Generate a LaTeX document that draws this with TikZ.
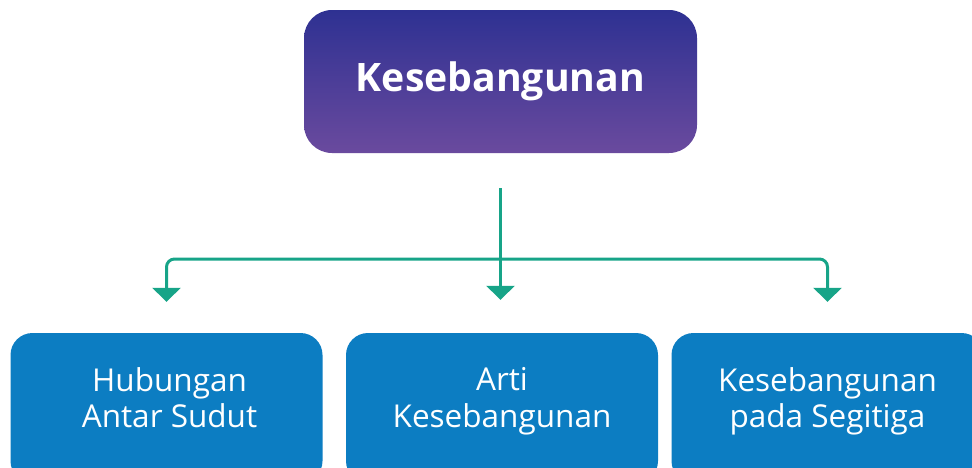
\documentclass[tikz,border=0pt]{standalone}
\usepackage{fontspec}
\setmainfont{Open Sans}
\usetikzlibrary{arrows.meta}
\definecolor{rootTop}{HTML}{2E3192}
\definecolor{rootBot}{HTML}{6A4A9E}
\definecolor{catBlue}{HTML}{0C7DC2}
\definecolor{linkTeal}{HTML}{17A488}
\tikzset{
  rootbox/.style={rounded corners=28pt, top color=rootTop, bottom color=rootBot,
    minimum width=393pt, minimum height=143pt, inner sep=0pt, text=white,
    font=\bfseries\fontsize{39.2}{46}\selectfont},
  catbox/.style={rounded corners=22pt, fill=catBlue, minimum width=312pt,
    minimum height=150pt, inner sep=0pt},
  cattext/.style={text=white, align=center, inner sep=0pt,
    font=\fontsize{31.5}{36.5}\selectfont,
    execute at begin node=\strut, execute at end node=\strut},
  link/.style={draw=linkTeal, line width=3pt,
    -{Triangle[width=28pt,length=14pt]}}
}
\begin{document}
\begin{tikzpicture}[x=1pt,y=-1pt]
  \useasboundingbox (0,0) rectangle (972,467);
  \clip (0,0) rectangle (972,467);
  \node[rootbox] (root) at (500.5,81.5) {Kesebangunan};
  \node[catbox] (left) at (166.5,408) {}; \node[catbox] (mid) at (502,408) {};
  \node[catbox] (right) at (827.5,408) {};
  \node[cattext] (lefttxt) at ([yshift=5pt,xshift=3pt]left) {Hubungan\\Antar Sudut};
  \node[cattext] (midtxt) at ([yshift=5pt]mid) {Arti\\Kesebangunan};
  \node[cattext] (righttxt) at ([yshift=5pt]right)
    {Kesebangunan\\pada Segitiga};
  \coordinate (bus) at (501,259);
  \draw[link, shorten <=35pt, shorten >=33pt] (root.south) -- (root.south |- mid.north);
  \foreach \c in {left,right} {
    \draw[link, rounded corners=8pt, shorten >=31pt] (bus) -| (\c.north); }
\end{tikzpicture}
\end{document}
